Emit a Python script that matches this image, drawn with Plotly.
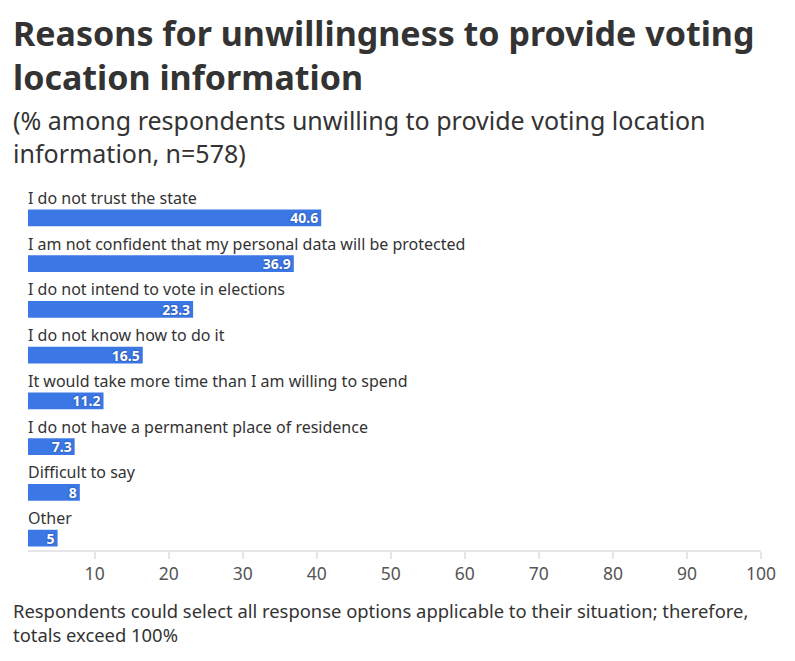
import plotly.graph_objects as go

# data
reasons = [
    "I do not trust the state",
    "I am not confident that my personal data will be protected",
    "I do not intend to vote in elections",
    "I do not know how to do it",
    "It would take more time than I am willing to spend",
    "I do not have a permanent place of residence",
    "Difficult to say",
    "Other",
]
shares = [40.6, 36.9, 23.3, 16.5, 11.2, 7.3, 8, 5]
tick_vals = [10, 20, 30, 40, 50, 60, 70, 80, 90, 100]

title_lines = ["Reasons for unwillingness to provide voting", "location information"]
subtitle_lines = ["(% among respondents unwilling to provide voting location", "information, n=578)"]
note_lines = ["Respondents could select all response options applicable to their situation; therefore,",
              "totals exceed 100%"]

FONT = "Noto Sans"
BLUE = "#3b78e6"
GREY_TXT = "#333333"

# plot area spans y 190..550 px on the page, so paper y = (550 - px) / 360
def py(px):
    return (550 - px) / 360

fig = go.Figure()
fig.add_trace(go.Bar(
    x=shares, y=reasons, orientation="h",
    marker=dict(color=BLUE, line=dict(width=0)),
    width=0.37,
    text=[str(v) for v in shares],
    textposition="inside", insidetextanchor="end",
    textfont=dict(family=FONT, size=14, color="white", weight="bold",
                  shadow="0px 0px 2px #1b3d85"),
    textangle=0,
    hoverinfo="skip",
))

# category labels sit above each bar
for r in reasons:
    fig.add_annotation(x=0, xref="paper", xshift=-2, y=r, yref="y", text=r,
                       showarrow=False, xanchor="left", yanchor="bottom",
                       yshift=7, font=dict(family=FONT, size=16, color=GREY_TXT))

# title, subtitle and footnote
def add_block(lines, center, size, bold=False):
    txt = "<br>".join(lines)
    fig.add_annotation(x=0, xref="paper", xshift=-17, y=py(center), yref="paper",
                       text="<b>%s</b>" % txt if bold else txt,
                       showarrow=False, xanchor="left", yanchor="middle", align="left",
                       font=dict(family=FONT, size=size, color=GREY_TXT))

add_block(title_lines, 55, 34, bold=True)
add_block(subtitle_lines, 136, 25)
add_block(note_lines, 622, 18.4)

fig.update_layout(
    width=795, height=661,
    margin=dict(l=20, r=42, t=182, b=119),
    paper_bgcolor="white", plot_bgcolor="white",
    showlegend=False,
    uniformtext=dict(minsize=14, mode="show"),
    xaxis=dict(range=[1, 100], tickvals=tick_vals, showgrid=False, zeroline=False,
               showline=True, linecolor="#e6e6e6", linewidth=2,
               ticks="outside", ticklen=7, tickcolor="#e6e6e6", tickwidth=2,
               tickfont=dict(family=FONT, size=17.5, color="#555555"), fixedrange=True),
    yaxis=dict(autorange=False, range=[7.26, -0.61], showticklabels=False,
               showgrid=False, zeroline=False, showline=False, fixedrange=True),
)

fig.write_html("out.html")
